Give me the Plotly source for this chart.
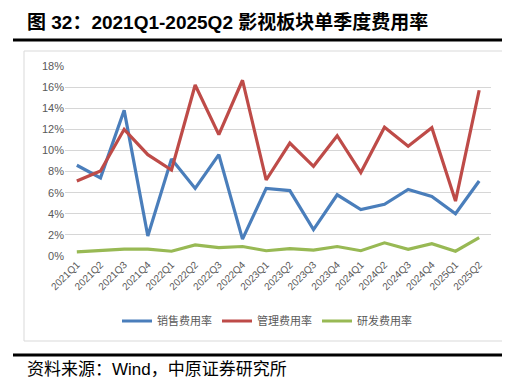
import plotly.graph_objects as go

categories = ["2021Q1", "2021Q2", "2021Q3", "2021Q4", "2022Q1", "2022Q2", "2022Q3", "2022Q4",
              "2023Q1", "2023Q2", "2023Q3", "2023Q4", "2024Q1", "2024Q2", "2024Q3", "2024Q4",
              "2025Q1", "2025Q2"]
sales_rate = [8.6, 7.4, 13.8, 1.9, 9.2, 6.4, 9.6, 1.6, 6.4, 6.2, 2.5, 5.8, 4.4, 4.9, 6.3, 5.65, 4.0, 7.1]
admin_rate = [7.1, 8.05, 12.0, 9.6, 8.15, 16.2, 11.5, 16.65, 7.2, 10.7, 8.5, 11.4, 7.9, 12.2, 10.4, 12.15, 5.2, 15.7]
rd_rate = [0.4, 0.55, 0.65, 0.65, 0.45, 1.05, 0.8, 0.9, 0.5, 0.7, 0.55, 0.9, 0.5, 1.25, 0.63, 1.17, 0.45, 1.75]
series_names = ["销售费用率", "管理费用率", "研发费用率"]
y_ticks = [0, 2, 4, 6, 8, 10, 12, 14, 16, 18]
y_tick_labels = ["0%", "2%", "4%", "6%", "8%", "10%", "12%", "14%", "16%", "18%"]

colors = ["#4A7EBB", "#BE4B48", "#98B954"]
W, H = 510, 378
L, R, T, B = 57, 483, 58, 248  # plot area pixels

def px(x):
    return (x - L) / (R - L)

def py(y):
    return (B - y) / (B - T)

fig = go.Figure()
for name, vals, c in zip(series_names, [sales_rate, admin_rate, rd_rate], colors):
    fig.add_trace(go.Scatter(x=categories, y=vals, name=name, mode="lines",
                             line=dict(color=c, width=3.2)))

font_main = "Liberation Sans, Arial, Noto Sans CJK SC"
fig.update_layout(
    width=W, height=H,
    margin=dict(l=L, r=W - R, t=T, b=H - B, pad=0),
    paper_bgcolor="white", plot_bgcolor="white",
    font=dict(family=font_main, color="#595959", size=11),
    showlegend=True,
    legend=dict(orientation="h", x=px(259), y=py(313), xanchor="center", yanchor="middle",
                font=dict(size=11, color="#595959"), itemwidth=30),
    xaxis=dict(type="category", tickangle=-45, showgrid=False, showline=False,
               ticks="", tickfont=dict(size=10, color="#595959"), range=[-0.5, 17.5]),
)
fig.update_yaxes(range=[0, 18], tickmode="array", tickvals=y_ticks, ticktext=y_tick_labels,
                 showgrid=True, gridcolor="#D6D6D6", gridwidth=1, zeroline=False, showline=False,
                 tickfont=dict(size=11, color="#595959"))

shapes = [
    dict(type="line", xref="paper", yref="paper", x0=px(5), x1=px(505), y0=py(32), y1=py(32),
         line=dict(color="black", width=3)),
    dict(type="line", xref="paper", yref="paper", x0=px(5), x1=px(505), y0=py(347), y1=py(347),
         line=dict(color="black", width=3)),
    dict(type="rect", xref="paper", yref="paper", x0=px(16), x1=px(498), y0=py(43), y1=py(333),
         line=dict(color="#D9D9D9", width=1), fillcolor="rgba(0,0,0,0)"),
]
fig.update_layout(shapes=shapes)

fig.add_annotation(text="<b>图 32：2021Q1-2025Q2 影视板块单季度费用率</b>", xref="paper", yref="paper",
                   x=px(17), y=py(14), xanchor="left", yanchor="middle", showarrow=False,
                   font=dict(size=19, color="black", family="Liberation Sans, Arial, Noto Sans CJK SC"))
fig.add_annotation(text="资料来源：Wind，中原证券研究所", xref="paper", yref="paper",
                   x=px(17), y=py(361), xanchor="left", yanchor="middle", showarrow=False,
                   font=dict(size=17, color="black", family="Liberation Sans, Arial, Noto Sans CJK SC"))

fig.write_html("out.html")
